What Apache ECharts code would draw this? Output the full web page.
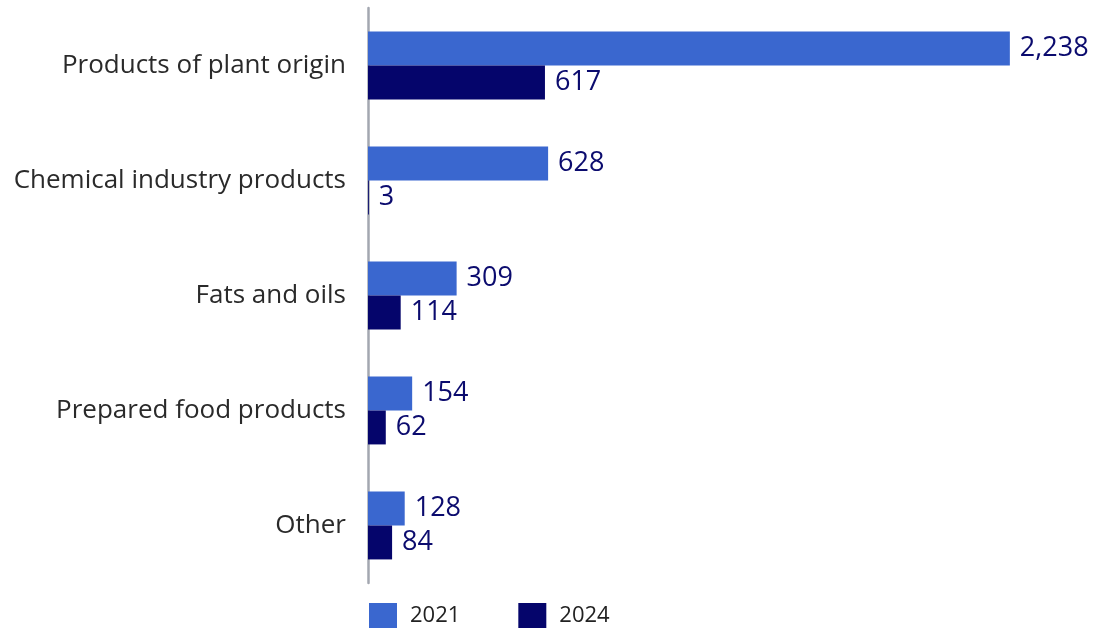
<!DOCTYPE html>
<html><head><meta charset="utf-8">
<script src="https://cdn.jsdelivr.net/npm/echarts@6/dist/echarts.min.js"></script>
<style>html,body{margin:0;padding:0;background:#fff}#c{width:1098px;height:628px}</style>
</head><body><div id="c"></div>
<script>
const categories = ["Products of plant origin","Chemical industry products","Fats and oils","Prepared food products","Other"];
const values2021 = [2238, 628, 309, 154, 128];
const values2024 = [617, 3, 114, 62, 84];
const seriesNames = ["2021","2024"];

const chart = echarts.init(document.getElementById('c'));
const labelStyle = {show:true, position:'right', distance:10, color:'#0b0b6e', fontSize:27, fontFamily:'Open Sans', fontWeight:500,
  formatter: p => p.value.toLocaleString('en-US')};
chart.setOption({
  animation:false,
  grid:{left:368, right:13, top:8, height:575, containLabel:false},
  xAxis:{type:'value', min:0, max:2500, show:false},
  yAxis:{type:'category', data:categories, inverse:true,
    axisLine:{show:true, lineStyle:{color:'#a3a7b0', width:2.5}},
    axisTick:{show:false},
    axisLabel:{margin:22, fontSize:26, color:'#2a2a2a', fontFamily:'Open Sans'}},
  legend:{left:364, top:598, itemWidth:28, itemHeight:26, itemGap:58, icon:'rect',
    textStyle:{fontSize:22, color:'#222', fontFamily:'Open Sans', padding:[0,0,0,8]},
    data:seriesNames},
  series:[
    {name:seriesNames[0], type:'bar', data:values2021, barGap:'0%', barCategoryGap:'41%',
     itemStyle:{color:'#3a67cf'}, label:labelStyle},
    {name:seriesNames[1], type:'bar', data:values2024,
     itemStyle:{color:'#05056b'}, label:labelStyle}
  ]
});
</script></body></html>
